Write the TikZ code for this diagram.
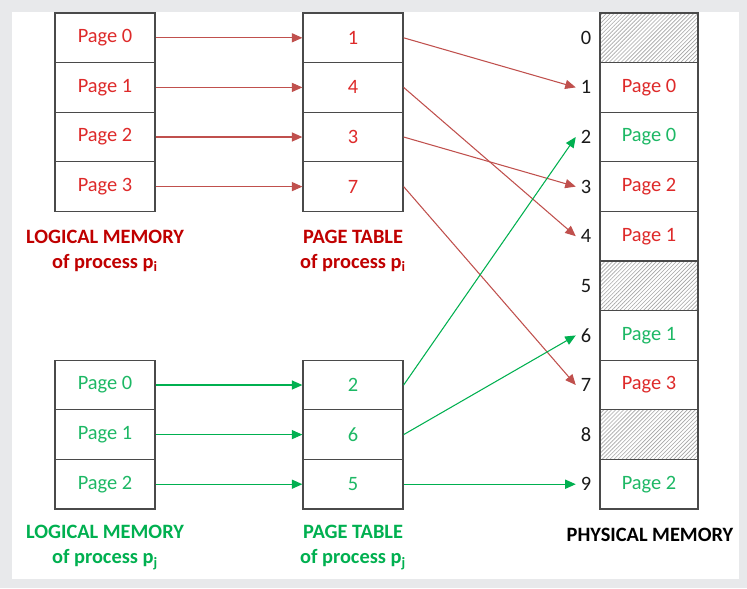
\documentclass[tikz,border=0pt]{standalone}
\usepackage{fontspec}
\setmainfont{Carlito}
\usetikzlibrary{arrows.meta,patterns.meta}

\definecolor{pagered}{HTML}{DE2A2A}
\definecolor{pagegreen}{HTML}{1DB865}
\definecolor{lblred}{HTML}{C00000}
\definecolor{lblgreen}{HTML}{00B050}
\definecolor{arrred}{HTML}{C0504D}
\definecolor{arrgreen}{HTML}{00B050}
\definecolor{boxgray}{HTML}{4A4A4A}
\definecolor{hatchgray}{HTML}{A6A6A6}
\definecolor{framegray}{HTML}{E8E9EB}

\tikzset{
  cell/.style={draw=boxgray, line width=0.9pt, minimum width=2.5cm, minimum height=1.24cm,
    inner sep=0pt, font=\fontsize{14.5}{17}\selectfont},
  redcell/.style={cell, text=pagered},
  greencell/.style={cell, text=pagegreen},
  freecell/.style={cell, pattern={Lines[angle=45,distance=2pt,line width=0.45pt]}, pattern color=hatchgray},
  framenum/.style={inner xsep=3.5pt, inner ysep=0pt, text=black!90, font=\fontsize{14.5}{17}\selectfont},
  caption/.style={align=center, font=\fontsize{14.5}{17.8}\selectfont\bfseries},
  redarrow/.style={draw=arrred, line width=0.75pt, -{Triangle[length=7.5pt,width=6.5pt]}},
  greenarrow/.style={draw=arrgreen, line width=0.75pt, -{Triangle[length=7.5pt,width=6.5pt]}}
}

\begin{document}
\begin{tikzpicture}[x=0.025cm, y=-0.025cm]
\useasboundingbox (0,0) rectangle (747,588);
\fill[framegray] (0,0) rectangle (747,588);
\fill[white] (12,12) rectangle (739,579);

% logical memory and page table of p_i
\foreach \k in {0,...,3}
  \node[redcell] (li\k) at (105,{37.8+49.6*\k}) {Page \k};
\foreach \v [count=\k from 0] in {1,4,3,7}
  \node[redcell] (pti\k) at (353,{37.8+49.6*\k}) {\v};

% logical memory and page table of p_j
\foreach \k in {0,...,2}
  \node[greencell] (lj\k) at (105,{37.8+49.6*(\k+7)}) {Page \k};
\foreach \v [count=\k from 0] in {2,6,5}
  \node[greencell] (ptj\k) at (353,{37.8+49.6*(\k+7)}) {\v};

% physical memory
\foreach \sty/\t [count=\k from 0] in {freecell/{},redcell/Page 0,greencell/Page 0,redcell/Page 2,
    redcell/Page 1,freecell/{},greencell/Page 1,redcell/Page 3,freecell/{},greencell/Page 2}
  \node[\sty, minimum width=2.45cm] (ph\k) at (649,{37.8+49.6*\k}) {\t};
\foreach \k in {0,...,9}
  \node[framenum, anchor=east] (num\k) at (596.5,{37.8+49.6*\k}) {\k};

\foreach \k in {0,...,3}
  \draw[redarrow] (li\k) -- (pti\k);
\foreach \k/\f in {0/1,1/4,2/3,3/7}
  \draw[redarrow] (pti\k.east) -- (num\f.west);
\foreach \k in {0,...,2}
  \draw[greenarrow] (lj\k) -- (ptj\k);
\foreach \k/\f in {0/2,1/6,2/9}
  \draw[greenarrow] (ptj\k.east) -- (num\f.west);

\node[caption, text=lblred] (capli) at (105,251) {LOGICAL MEMORY\\of process p\textsubscript{i}};
\node[caption, text=lblred] (cappti) at (353,251) {PAGE TABLE\\of process p\textsubscript{i}};
\node[caption, text=lblgreen] (caplj) at (105,547.5) {LOGICAL MEMORY\\of process p\textsubscript{j}};
\node[caption, text=lblgreen] (capptj) at (353,547.5) {PAGE TABLE\\of process p\textsubscript{j}};
\node[caption, text=black] (capph) at (650,535) {PHYSICAL MEMORY};
\end{tikzpicture}
\end{document}
